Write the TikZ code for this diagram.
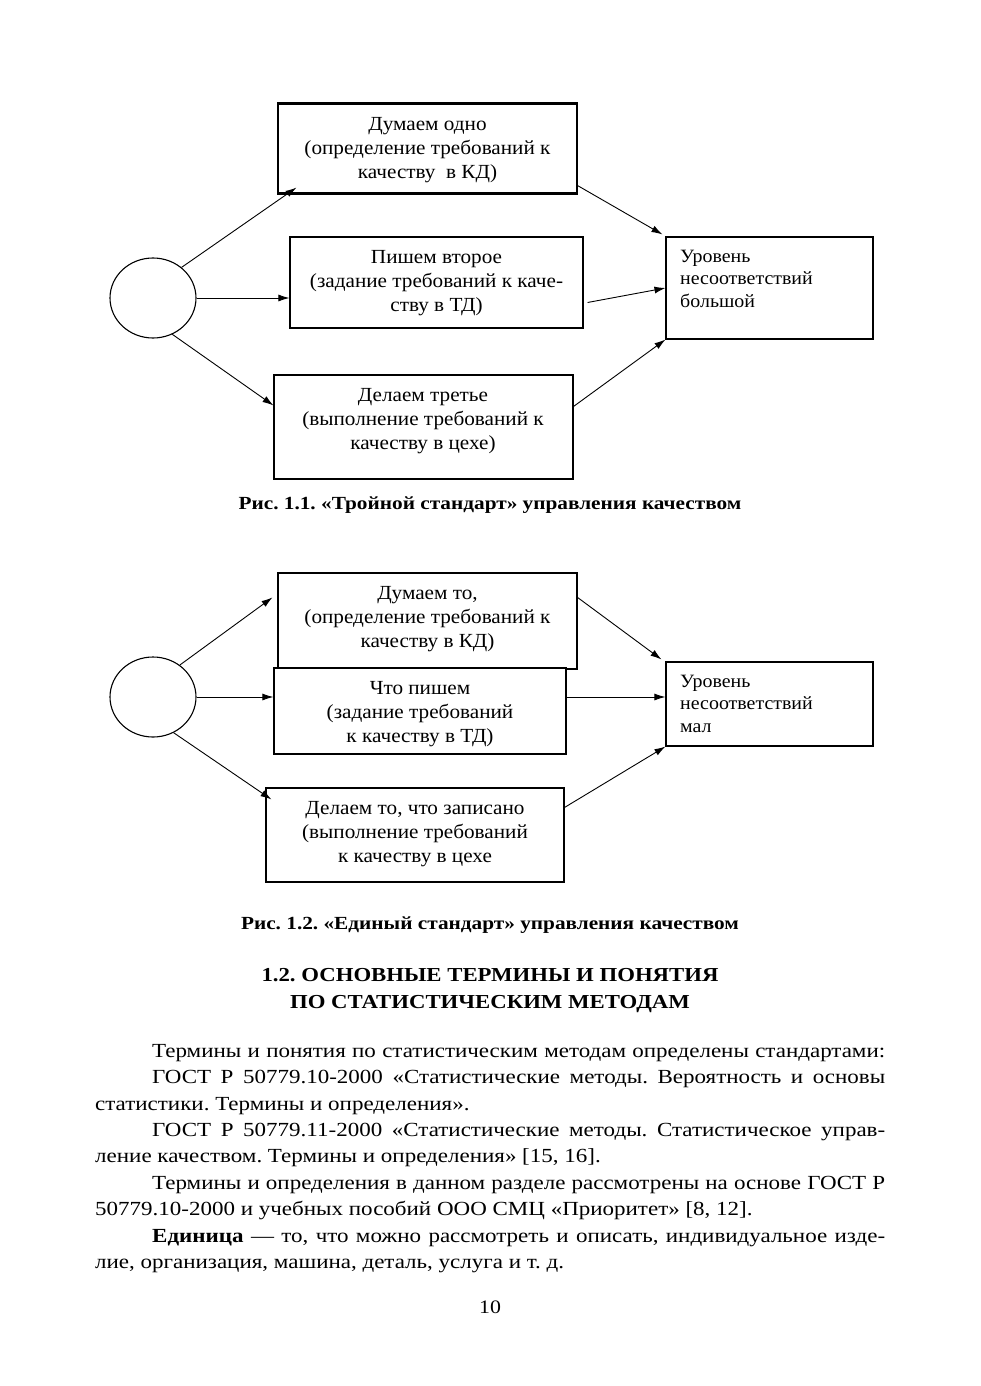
\documentclass[tikz,border=0pt]{standalone}
\usepackage{fontspec}
\setmainfont{Liberation Serif}
\newfontfamily\bodyf[FakeStretch=1.15]{Liberation Serif}
\newfontfamily\figf[FakeStretch=1.06]{Liberation Serif}
\usetikzlibrary{arrows.meta,calc,shapes.geometric}
\begin{document}
\frenchspacing
\begin{tikzpicture}[x=1pt,y=-1pt,
  box/.style={draw, line width=1.1pt, fill=white, inner sep=0pt},
  circ/.style={draw, ellipse, line width=1.1pt, minimum width=86pt, minimum height=80pt, inner sep=0pt},
  txt/.style={font=\figf\fontsize{20}{24}\selectfont, align=center, inner sep=0pt},
  rtxt/.style={font=\figf\fontsize{18.8}{22.3}\selectfont, align=left, inner sep=0pt, anchor=north west},
  arr/.style={-{Latex[length=11pt,width=7pt]}, line width=0.9pt},
  figcap/.style={font=\bodyf\bfseries\fontsize{18.5}{22}\selectfont, inner sep=0pt, anchor=base},
  head/.style={font=\bodyf\bfseries\fontsize{19.8}{24}\selectfont, inner sep=0pt, anchor=base},
  body/.style={font=\bodyf\fontsize{20}{26}\selectfont\frenchspacing, inner sep=0pt, anchor=base west}]
\useasboundingbox[fill=white] (0,0) rectangle (980,1386);

% ---------- Figure 1.1 ----------
\node[box, minimum width=299pt, minimum height=89pt] (b1) at (427.5,148.5) {};
\draw[line width=2.6pt] (b1.north west) -- (b1.north east);
\draw[line width=2.6pt] (b1.south west) -- (b1.south east);
\node[box, minimum width=293pt, minimum height=91pt] (b2) at (436.5,282.5) {};
\node[box, minimum width=299pt, minimum height=104pt] (b3) at (423.5,427) {};
\node[box, minimum width=207pt, minimum height=102pt] (r1) at (769.5,288) {};
\node[circ] (c1) at (153,298) {};

\node[txt] (t1) at (427.5,150) {Думаем одно\\(определение требований к\\качеству\ \ в КД)};
\node[txt] (t2) at (436.5,283) {Пишем второе\\(задание требований к каче-\\ству в ТД)};
\node[txt] (t3) at (423,421) {Делаем третье\\(выполнение требований к\\качеству в цехе)};
\node[rtxt] (u1) at (680,250) {Уровень\\несоответствий\\большой};

\draw[arr] (c1.47) -- ($(b1.south west)+(19,-6)$);
\draw[arr] (c1.east) -- (c1.east -| b2.west);
\draw[arr] (c1.-62) -- ($(b3.north west)+(0,31)$);
\draw[arr] ($(b1.south east)+(0,-8)$) -- ($(r1.north west)+(-3,-2)$);
\draw[arr] ($(b2.east)+(4,20)$) -- (r1.west);
\draw[arr] ($(b3.north east)+(0,32)$) -- (r1.south west);

\node[figcap] (cap1) at (490,509) {Рис. 1.1. «Тройной стандарт» управления качеством};

% ---------- Figure 1.2 ----------
\node[box, minimum width=299pt, minimum height=96pt] (d1) at (427.5,621) {};
\node[box, minimum width=292pt, minimum height=86pt] (d2) at (420,711) {};
\node[box, minimum width=298pt, minimum height=94pt] (d3) at (415,835) {};
\node[box, minimum width=207pt, minimum height=84pt] (r2) at (769.5,704) {};
\node[circ] (c2) at (153,697) {};

\node[txt] (s1) at (427.5,619) {Думаем то,\\(определение требований к\\качеству в КД)};
\node[txt] (s2) at (420,714) {Что пишем\\(задание требований\\к качеству в ТД)};
\node[txt] (s3) at (415,834) {Делаем то, что записано\\(выполнение требований\\к качеству в цехе};
\node[rtxt] (u2) at (680,675) {Уровень\\несоответствий\\мал};

\draw[arr] (c2.50) -- ($(d1.north west)+(-5,25)$);
\draw[arr] (c2.east) -- (c2.east -| d2.west);
\draw[arr] (c2.-60) -- ($(d3.north west)+(6,12)$);
\draw[arr] ($(d1.north east)+(0,25)$) -- ($(r2.north west)+(-4,-2)$);
\draw[arr] (c2.east -| d2.east) -- (c2.east -| r2.west);
\draw[arr] ($(d3.north east)+(0,20)$) -- (r2.south west);

\node[figcap] (cap2) at (490,929) {Рис. 1.2. «Единый стандарт» управления качеством};

% ---------- Heading ----------
\node[head] (h1) at (490,981) {1.2. ОСНОВНЫЕ ТЕРМИНЫ И ПОНЯТИЯ};
\node[head] (h2) at (490,1008) {ПО СТАТИСТИЧЕСКИМ МЕТОДАМ};

% ---------- Body text ----------
\node[body] (l1) at (152,1057) {\makebox[733pt][s]{Термины и понятия по статистическим методам определены стандартами:}};
\node[body] (l2) at (152,1083) {\makebox[733pt][s]{ГОСТ Р 50779.10-2000 «Статистические методы. Вероятность и основы}};
\node[body] (l3) at (95,1110) {статистики. Термины и определения».};
\node[body] (l4) at (152,1136) {\makebox[733pt][s]{ГОСТ Р 50779.11-2000 «Статистические методы. Статистическое управ-}};
\node[body] (l5) at (95,1162) {ление качеством. Термины и определения» [15, 16].};
\node[body] (l6) at (152,1189) {\makebox[733pt][s]{Термины и определения в данном разделе рассмотрены на основе ГОСТ Р}};
\node[body] (l7) at (95,1215) {50779.10-2000 и учебных пособий ООО СМЦ «Приоритет» [8, 12].};
\node[body] (l8) at (152,1242) {\makebox[733pt][s]{\textbf{Единица} — то, что можно рассмотреть и описать, индивидуальное изде-}};
\node[body] (l9) at (95,1268) {лие, организация, машина, деталь, услуга и т.~д.};

\node[font=\bodyf\fontsize{19}{22}\selectfont, inner sep=0pt, anchor=base] (pg) at (490,1313) {10};
\end{tikzpicture}
\end{document}
